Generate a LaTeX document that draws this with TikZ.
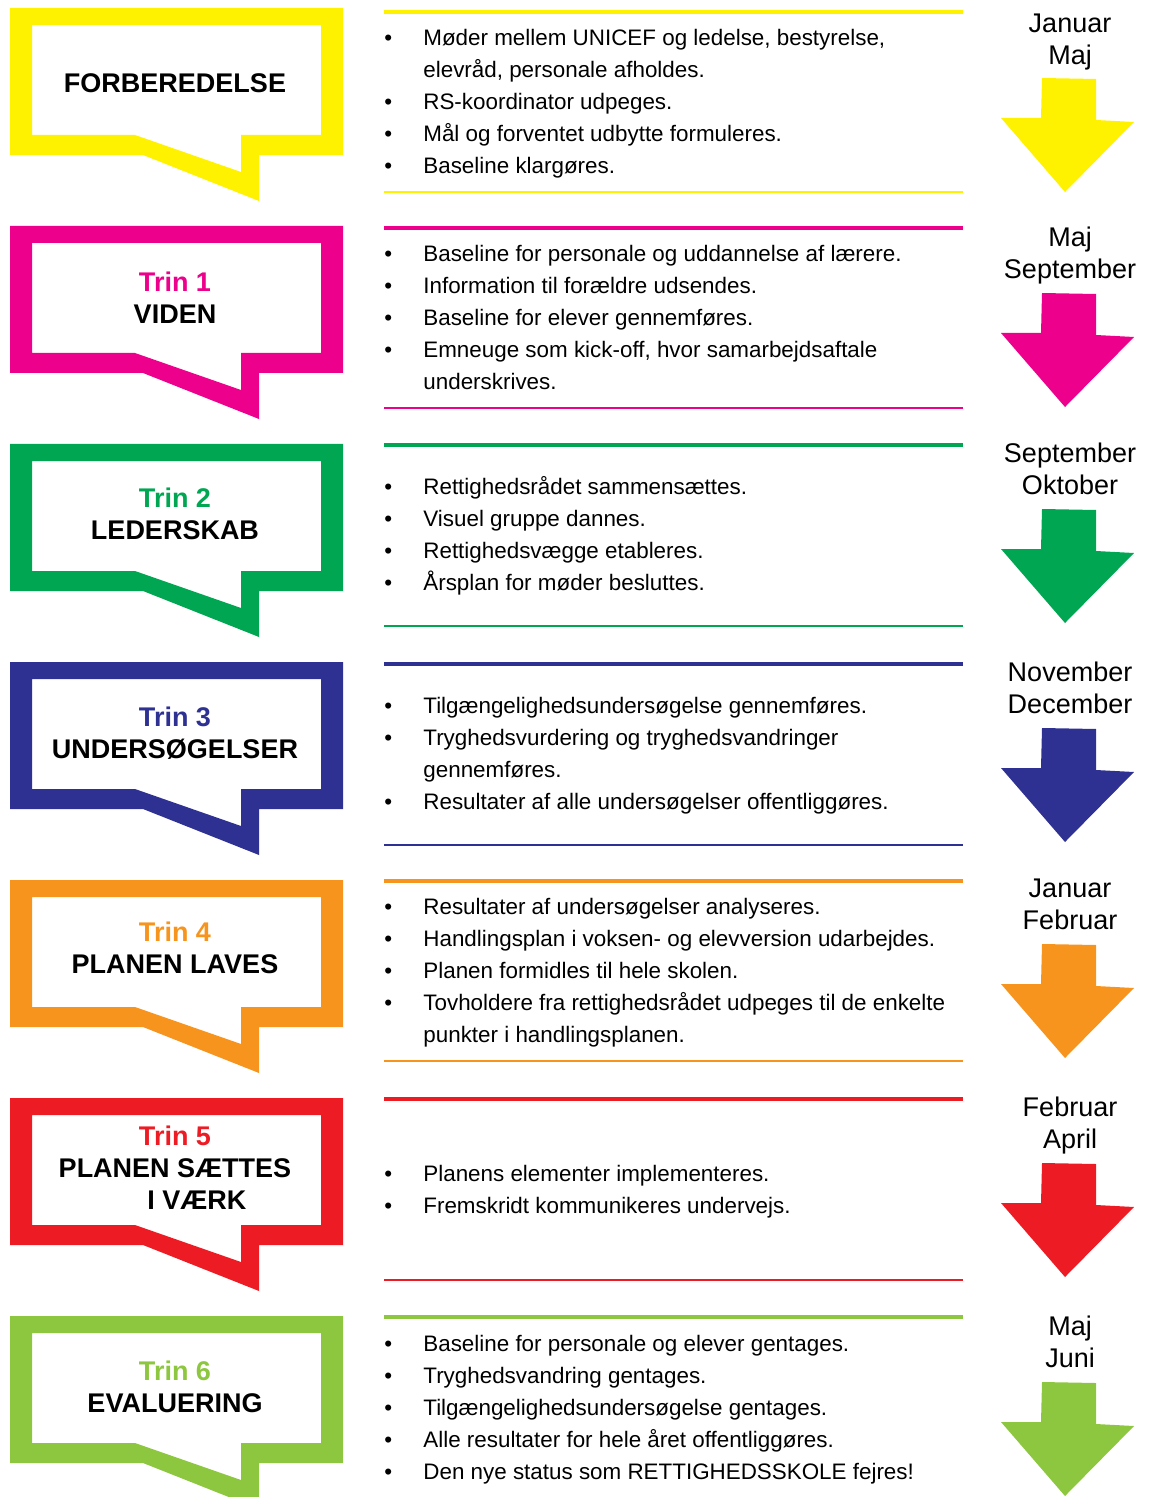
\documentclass[tikz,border=0pt]{standalone}
\usepackage{fontspec}
\setmainfont{Liberation Sans}
\usepackage{xcolor}

\definecolor{rsyellow}{HTML}{FFF200}
\definecolor{rsmagenta}{HTML}{EC008C}
\definecolor{rsgreen}{HTML}{00A651}
\definecolor{rsblue}{HTML}{2E3192}
\definecolor{rsorange}{HTML}{F7941D}
\definecolor{rsred}{HTML}{ED1C24}
\definecolor{rslime}{HTML}{8DC63F}

% #1 = top of bubble, #2 = colour
\newcommand{\speechbubble}[2]{%
\fill[#2,even odd rule] (10,#1) -- (343,#1) -- (343,#1+147) -- (259,#1+147) -- (259,#1+193) -- (143,#1+147) -- (10,#1+147) -- cycle
  (32,#1+17) -- (321,#1+17) -- (321,#1+127) -- (241,#1+127) -- (241,#1+164) -- (135,#1+127) -- (32,#1+127) -- cycle;}
% #1 = top of stem, #2 = colour
\newcommand{\datearrow}[2]{%
\fill[#2] (1042,#1) -- (1096,#1+1) -- (1096,#1+42) -- (1134,#1+44) -- (1065,#1+114) -- (1001,#1+40) -- (1041,#1+40) -- cycle;}
% #1 = top line, #2 = bottom line, #3 = colour
\newcommand{\blocklines}[3]{%
\draw[#3,line width=2.2pt] (384,#1) -- (963,#1);
\draw[#3,line width=0.8pt] (384,#2) -- (963,#2);}

\begin{document}
\begin{tikzpicture}[x=0.5pt,y=-0.5pt,
  titletext/.style={align=center,inner sep=0pt,font=\fontsize{13.5}{16}\selectfont\bfseries},
  datetext/.style={align=center,inner sep=0pt,font=\fontsize{13.5}{16}\selectfont},
  listtext/.style={anchor=west,inner sep=0pt,font=\fontsize{11.2}{16}\selectfont}]

\useasboundingbox (0,0) rectangle (1156,1497);
\clip (0,0) rectangle (1156,1497);

% bubbles
\speechbubble{8}{rsyellow}
\speechbubble{226}{rsmagenta}
\speechbubble{444}{rsgreen}
\speechbubble{662}{rsblue}
\speechbubble{880}{rsorange}
\speechbubble{1098}{rsred}
\speechbubble{1316}{rslime}

\node[titletext] (forb) at (175,86) {\strut FORBEREDELSE};
\node[titletext] (trin1) at (175,301) {\strut{\color{rsmagenta}Trin 1}\\\strut VIDEN};
\node[titletext] (trin2) at (175,517) {\strut{\color{rsgreen}Trin 2}\\\strut LEDERSKAB};
\node[titletext] (trin3) at (175,736) {\strut{\color{rsblue}Trin 3}\\\strut UNDERSØGELSER};
\node[titletext] (trin4) at (175,951) {\strut{\color{rsorange}Trin 4}\\\strut PLANEN LAVES};
\node[titletext] (trin5) at (175,1171) {\strut{\color{rsred}Trin 5}\\\strut PLANEN SÆTTES\\\strut\hspace*{22pt}I VÆRK};
\node[titletext] (trin6) at (175,1390) {\strut{\color{rslime}Trin 6}\\\strut EVALUERING};

% lines
\blocklines{12}{192}{rsyellow}
\blocklines{228}{408}{rsmagenta}
\blocklines{445}{626}{rsgreen}
\blocklines{664}{845}{rsblue}
\blocklines{881}{1061}{rsorange}
\blocklines{1099}{1280}{rsred}
\blocklines{1317}{1520}{rslime}

\node[listtext] (list0) at (384,103.5) {\begin{tabular}{@{}p{19.5pt}@{}l@{}}
\textbullet & Møder mellem UNICEF og ledelse, bestyrelse,\\
 & elevråd, personale afholdes.\\
\textbullet & RS-koordinator udpeges.\\
\textbullet & Mål og forventet udbytte formuleres.\\
\textbullet & Baseline klargøres.
\end{tabular}};
\node[listtext] (list1) at (384,319.5) {\begin{tabular}{@{}p{19.5pt}@{}l@{}}
\textbullet & Baseline for personale og uddannelse af lærere.\\
\textbullet & Information til forældre udsendes.\\
\textbullet & Baseline for elever gennemføres.\\
\textbullet & Emneuge som kick-off, hvor samarbejdsaftale\\
 & underskrives.
\end{tabular}};
\node[listtext] (list2) at (384,536.5) {\begin{tabular}{@{}p{19.5pt}@{}l@{}}
\textbullet & Rettighedsrådet sammensættes.\\
\textbullet & Visuel gruppe dannes.\\
\textbullet & Rettighedsvægge etableres.\\
\textbullet & Årsplan for møder besluttes.
\end{tabular}};
\node[listtext] (list3) at (384,755.5) {\begin{tabular}{@{}p{19.5pt}@{}l@{}}
\textbullet & Tilgængelighedsundersøgelse gennemføres.\\
\textbullet & Tryghedsvurdering og tryghedsvandringer\\
 & gennemføres.\\
\textbullet & Resultater af alle undersøgelser offentliggøres.
\end{tabular}};
\node[listtext] (list4) at (384,972.5) {\begin{tabular}{@{}p{19.5pt}@{}l@{}}
\textbullet & Resultater af undersøgelser analyseres.\\
\textbullet & Handlingsplan i voksen- og elevversion udarbejdes.\\
\textbullet & Planen formidles til hele skolen.\\
\textbullet & Tovholdere fra rettighedsrådet udpeges til de enkelte\\
 & punkter i handlingsplanen.
\end{tabular}};
\node[listtext] (list5) at (384,1191.5) {\begin{tabular}{@{}p{19.5pt}@{}l@{}}
\textbullet & Planens elementer implementeres.\\
\textbullet & Fremskridt kommunikeres undervejs.
\end{tabular}};
\node[listtext] (list6) at (384,1409.5) {\begin{tabular}{@{}p{19.5pt}@{}l@{}}
\textbullet & Baseline for personale og elever gentages.\\
\textbullet & Tryghedsvandring gentages.\\
\textbullet & Tilgængelighedsundersøgelse gentages.\\
\textbullet & Alle resultater for hele året offentliggøres.\\
\textbullet & Den nye status som RETTIGHEDSSKOLE fejres!
\end{tabular}};

% arrows and months
\datearrow{78}{rsyellow}
\datearrow{293}{rsmagenta}
\datearrow{509}{rsgreen}
\datearrow{728}{rsblue}
\datearrow{944}{rsorange}
\datearrow{1163}{rsred}
\datearrow{1382}{rslime}

\node[datetext] (date0) at (1070,42.5) {\strut Januar\\\strut Maj};
\node[datetext] (date1) at (1070,256.5) {\strut Maj\\\strut September};
\node[datetext] (date2) at (1070,472.5) {\strut September\\\strut Oktober};
\node[datetext] (date3) at (1070,691.5) {\strut November\\\strut December};
\node[datetext] (date4) at (1070,907.5) {\strut Januar\\\strut Februar};
\node[datetext] (date5) at (1070,1126.5) {\strut Februar\\\strut April};
\node[datetext] (date6) at (1070,1345.5) {\strut Maj\\\strut Juni};

\end{tikzpicture}
\end{document}
